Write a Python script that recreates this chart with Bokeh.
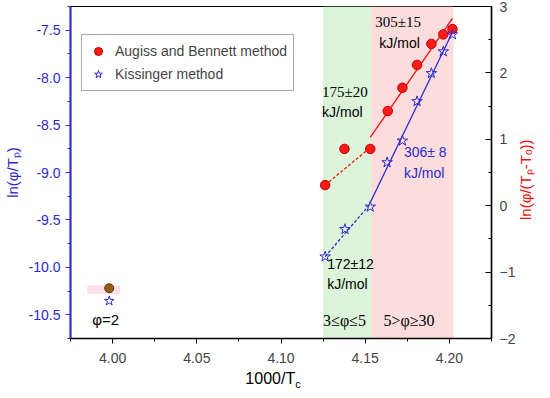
import numpy as np
from bokeh.plotting import figure
from bokeh.layouts import column, row
from bokeh.models import (Range1d, LinearAxis, FixedTicker, NumeralTickFormatter,
                          Label, Legend, LegendItem, BoxAnnotation, Div)
from bokeh.embed import file_html
from bokeh.resources import INLINE

# ---------------- data ----------------
ab_x = [4.1262, 4.1377, 4.1530, 4.1634, 4.1721, 4.1808, 4.1893, 4.1964, 4.2018]
ab_y = [0.31, 0.855, 0.855, 1.425, 1.776, 2.12, 2.437, 2.58, 2.66]        # right axis
ki_x = [4.1262, 4.1380, 4.1530, 4.1630, 4.1721, 4.1808, 4.1893, 4.1964, 4.2018]
ki_y = [-9.887, -9.598, -9.362, -8.894, -8.665, -8.25, -7.954, -7.725, -7.545]  # left axis
phi2_x = [3.998]
phi2_ab = [-10.22]
phi2_ki = [-10.354]
E_ab_low, E_ab_high = 175, 305   # kJ/mol
E_ki_low, E_ki_high = 172, 306
R_gas = 8.314
region_left = [4.125, 4.1535]
region_right = [4.1535, 4.2024]
x_ticks = [4.00, 4.05, 4.10, 4.15, 4.20]
x_minor = [3.975, 4.025, 4.075, 4.125, 4.175, 4.225]
yl_ticks = [-10.5, -10.0, -9.5, -9.0, -8.5, -8.0, -7.5]
yl_minor = [-10.75, -10.25, -9.75, -9.25, -8.75, -8.25, -7.75, -7.25]
yr_ticks = [-2, -1, 0, 1, 2, 3]
yr_minor = [-1.5, -0.5, 0.5, 1.5, 2.5]

BLUE = "#2b2bd0"
RED = "#f01010"
SANS = "Liberation Sans"
SERIF = "Liberation Serif"

p = figure(width=518, height=368, output_backend="svg", toolbar_location=None,
           x_range=Range1d(3.975, 4.225), y_range=Range1d(-10.75, -7.25))
p.extra_y_ranges = {"right": Range1d(-2, 3)}
p.min_border_left = 64
p.min_border_right = 21
p.min_border_top = 6
p.min_border_bottom = 30
p.xgrid.visible = False
p.ygrid.visible = False
p.outline_line_color = "black"
p.outline_line_width = 1.2
p.background_fill_color = "white"

# shaded regions
p.add_layout(BoxAnnotation(left=region_left[0], right=region_right[0], fill_color="#dcf5da",
                           fill_alpha=1.0, line_color=None, level="underlay"))
p.add_layout(BoxAnnotation(left=region_left[1], right=region_right[1], fill_color="#fcdcdc",
                           fill_alpha=1.0, line_color=None, level="underlay"))
p.add_layout(BoxAnnotation(left=phi2_x[0] - 0.013, right=phi2_x[0] + 0.0065,
                           bottom=phi2_ab[0] - 0.06, top=phi2_ab[0] + 0.03,
                           fill_color="#fbe0ea", fill_alpha=1.0, line_color=None, level="underlay"))

# fit lines (slopes from activation energies)
def seg(xs, ys, i0, i1, E, anchor="first"):
    s = E / R_gas
    if anchor == "first":
        x0, y0 = xs[i0], ys[i0]
        xa = xs[i0]
    else:
        x0, y0 = np.mean(xs[i0:]), np.mean(ys[i0:])
        xa = xs[2]
    xb = xs[i1]
    return [xa, xb], [y0 + s * (xa - x0), y0 + s * (xb - x0)]

lx, ly = seg(ab_x, ab_y, 0, 2, E_ab_low)
p.line(lx, ly, y_range_name="right", line_color=RED, line_width=1.3, line_dash="3 2")
lx, ly = seg(ab_x, ab_y, 3, 8, E_ab_high, anchor="mean")
p.line(lx, ly, y_range_name="right", line_color=RED, line_width=1.3)
lx, ly = seg(ki_x, ki_y, 0, 2, E_ki_low)
p.line(lx, ly, line_color=BLUE, line_width=1.3, line_dash="3 2")
lx, ly = seg(ki_x, ki_y, 2, 8, E_ki_high, anchor="mean")
p.line(lx, ly, line_color=BLUE, line_width=1.3)

r_ab = p.scatter(ab_x, ab_y, y_range_name="right", marker="circle", size=9.5,
                 fill_color="#ff1a1a", line_color="#c00000", line_width=1)
r_ki = p.scatter(ki_x, ki_y, marker="star", size=11, fill_color=None,
                 line_color=BLUE, line_width=1)
p.scatter(phi2_x, phi2_ab, marker="circle", size=9, fill_color="#9a5a12",
          line_color="#5a3008", line_width=1)
p.scatter(phi2_x, phi2_ki, marker="star", size=10, fill_color=None,
          line_color=BLUE, line_width=1)

# axes
xa = p.xaxis[0]
xa.ticker = FixedTicker(ticks=x_ticks, minor_ticks=x_minor)
xa.formatter = NumeralTickFormatter(format="0.00")
xa.axis_line_color = "black"
xa.axis_line_width = 1.5
xa.major_tick_out = 5
xa.major_tick_in = 0
xa.minor_tick_out = 3
xa.minor_tick_in = 0
xa.major_label_text_font = SANS
xa.major_label_text_font_size = "14px"
xa.major_label_standoff = 9

ya = p.yaxis[0]
ya.ticker = FixedTicker(ticks=yl_ticks, minor_ticks=yl_minor)
ya.formatter = NumeralTickFormatter(format="0.0")
ya.axis_line_color = BLUE
ya.axis_line_width = 2
ya.major_tick_line_color = BLUE
ya.minor_tick_line_color = BLUE
ya.major_tick_out = 5
ya.major_tick_in = 0
ya.minor_tick_out = 3
ya.minor_tick_in = 0
ya.major_label_text_font = SANS
ya.major_label_text_font_size = "14px"
ya.major_label_text_color = BLUE
ya.major_label_standoff = 5
ya.axis_label = "ln(φ/Tₚ)"
ya.axis_label_text_font = SANS
ya.axis_label_text_font_style = "normal"
ya.axis_label_text_font_size = "15px"
ya.axis_label_text_color = BLUE
ya.axis_label_standoff = 5

yr = LinearAxis(y_range_name="right")
yr.ticker = FixedTicker(ticks=yr_ticks, minor_ticks=yr_minor)
yr.axis_line_color = "black"
yr.axis_line_width = 1.5
yr.major_tick_in = 6
yr.major_tick_out = 0
yr.minor_tick_in = 3
yr.minor_tick_out = 0
yr.major_label_text_font = SANS
yr.major_label_text_font_size = "14px"
yr.major_label_text_align = "left"
yr.major_label_standoff = 8
p.add_layout(yr, "right")

# annotations
def lab(x, y, t, font=SANS, size="14px", color="black"):
    p.add_layout(Label(x=x, y=y, text=t, text_font=font, text_font_size=size,
                       text_color=color, text_baseline="middle", text_align="left"))

lab(4.156, -7.416, "305±15", font=SERIF, size="15px")
lab(4.1584, -7.637, "kJ/mol")
lab(4.1244, -8.155, "175±20", font=SERIF, size="15px")
lab(4.1244, -8.366, "kJ/mol")
lab(4.173, -8.788, "306± 8", color=BLUE)
lab(4.173, -9.0, "kJ/mol", color=BLUE)
lab(4.1274, -9.96, "172±12")
lab(4.1274, -10.18, "kJ/mol")
lab(4.125, -10.562, "3≤φ≤5", font=SERIF, size="16px")
lab(4.1608, -10.562, "5>φ≥30", font=SERIF, size="16px")
lab(3.9879, -10.552, "φ=2", size="15px")

legend = Legend(items=[LegendItem(label="Augiss and Bennett method", renderers=[r_ab]),
                       LegendItem(label="Kissinger method", renderers=[r_ki])],
                location=(11, 247))
legend.label_text_font = SANS
legend.label_text_font_size = "14px"
legend.glyph_width = 20
legend.glyph_height = 20
legend.label_height = 20
legend.label_standoff = 7
legend.spacing = 3
legend.padding = 6
legend.margin = 0
legend.border_line_color = "#555555"
legend.border_line_width = 1
legend.background_fill_alpha = 1
p.add_layout(legend)

# right axis title (rotated HTML text)
rtitle = Div(text="ln(φ/(Tₚ-Tₒ))", width=16, height=368, margin=(0, 0, 0, 0),
             styles={"font-family": SANS, "font-size": "15px", "color": RED,
                     "writing-mode": "vertical-rl", "transform": "rotate(180deg)",
                     "text-align": "center", "padding-top": "8px",
                     "box-sizing": "border-box", "line-height": "16px", "overflow": "visible"})

# x-axis title with subscript, as an HTML line under the figure
xtitle = Div(text="1000/T<sub style='font-size:11px'>c</sub>", width=534, height=14, margin=(0, 0, 0, 0),
             styles={"font-family": SANS, "font-size": "16px", "color": "black",
                     "text-align": "center", "padding-left": "12px", "line-height": "10px",
                     "box-sizing": "border-box", "width": "534px", "overflow": "visible",
                     "transform": "translateY(6px)"})

layout = column(row(p, rtitle, spacing=0), xtitle, spacing=0)
open("out.html", "w").write(file_html(layout, INLINE))
